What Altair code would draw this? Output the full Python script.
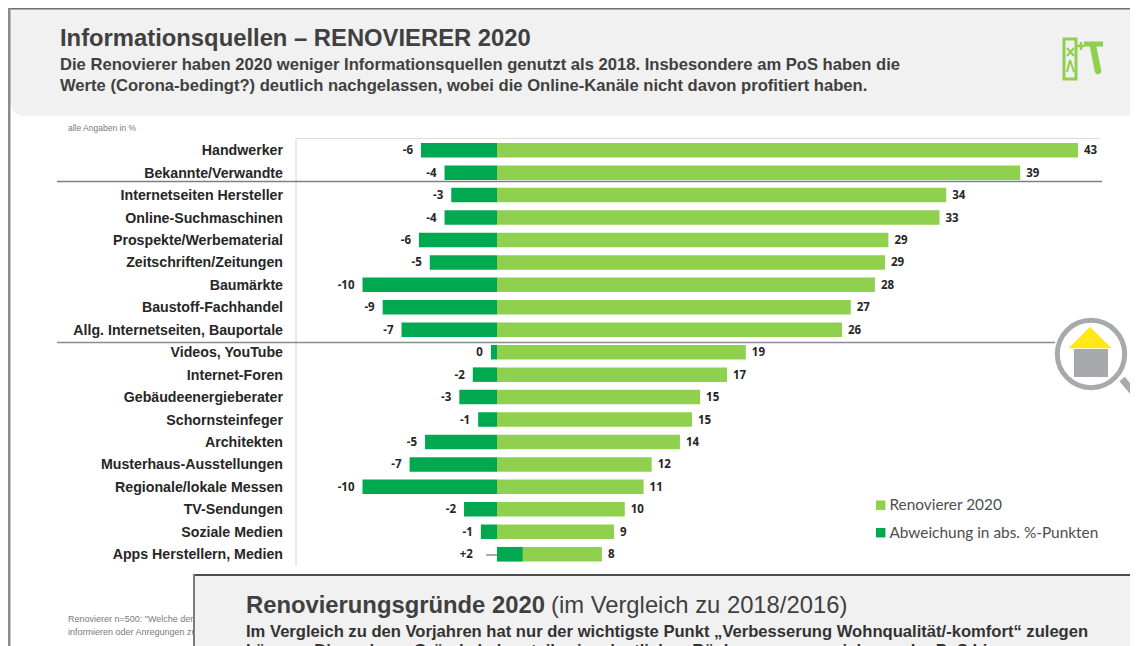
import altair as alt
import pandas as pd

categories = ["Handwerker", "Bekannte/Verwandte", "Internetseiten Hersteller", "Online-Suchmaschinen",
              "Prospekte/Werbematerial", "Zeitschriften/Zeitungen", "Baumärkte", "Baustoff-Fachhandel",
              "Allg. Internetseiten, Bauportale", "Videos, YouTube", "Internet-Foren", "Gebäudeenergieberater",
              "Schornsteinfeger", "Architekten", "Musterhaus-Ausstellungen", "Regionale/lokale Messen",
              "TV-Sendungen", "Soziale Medien", "Apps Herstellern, Medien"]
bar_2020 = [43.2, 38.9, 33.4, 32.9, 29.1, 28.85, 28.1, 26.3, 25.65, 18.5, 17.1, 15.1, 14.5, 13.6, 11.5, 10.9, 9.5, 8.7, 7.8]
bar_dev = [-5.65, -3.9, -3.4, -3.9, -5.8, -5.0, -10.0, -8.5, -7.1, -0.45, -1.8, -2.8, -1.4, -5.35, -6.5, -10.0, -2.45, -1.2, 1.9]
labels_2020 = ["43", "39", "34", "33", "29", "29", "28", "27", "26", "19", "17", "15", "15", "14", "12", "11", "10", "9", "8"]
labels_dev = ["-6", "-4", "-3", "-4", "-6", "-5", "-10", "-9", "-7", "0", "-2", "-3", "-1", "-5", "-7", "-10", "-2", "-1", "+2"]
# where the deviation label sits, on the value axis
anchor_dev = [-5.65, -3.9, -3.4, -3.9, -5.8, -5.0, -10.0, -8.5, -7.1, -0.45, -1.8, -2.8, -1.4, -5.35, -6.5, -10.0, -2.45, -1.2, -1.2]
series = ["Renovierer 2020", "Abweichung in abs. %-Punkten"]

W, H = 1122, 638
HEAD = "Liberation Sans"
LIGHT, DARK = "#8fd14f", "#00a84f"

base_rows = pd.DataFrame({"cat": categories, "v2020": bar_2020, "dev": bar_dev,
                          "l2020": labels_2020, "ldev": labels_dev, "adev": anchor_dev})
long_rows = pd.concat([
    pd.DataFrame({"cat": categories, "value": bar_2020, "series": series[0]}),
    pd.DataFrame({"cat": categories, "value": bar_dev, "series": series[1]}),
])


def px(v):
    return alt.value(v - 8)


xs = alt.Scale(domain=[-489 / 13.45, (W - 489) / 13.45], range=[0, W], nice=False, zero=False)
ys = alt.Scale(domain=categories, range=[131, 557.4], paddingInner=0.354, paddingOuter=0.177)
one = alt.Data(values=[{}])


def box(x0, x1, y0, y1, color, **kw):
    return alt.Chart(one).mark_rect(color=color, **kw).encode(x=px(x0), x2=px(x1), y=px(y0), y2=px(y1))


def seg(x0, x1, y0, y1, color, width, **kw):
    return alt.Chart(one).mark_rule(color=color, strokeWidth=width, **kw).encode(x=px(x0), x2=px(x1), y=px(y0), y2=px(y1))


def txt(x, y, s, size, color="#333333", weight="normal", font=HEAD, align="left"):
    return alt.Chart(one).mark_text(font=font, fontSize=size, color=color, fontWeight=weight,
                                    align=align, baseline="alphabetic").encode(x=px(x), y=px(y), text=alt.value(s))


y_axis = alt.Axis(offset=-287.5, ticks=False, grid=False, labelPadding=13, domainColor="#d4d4d4",
                  domainWidth=1, labelFont=HEAD, labelFontWeight="bold", labelFontSize=14.2, labelOffset=1,
                  labelColor="#262626", labelLimit=280, title=None)
y_enc = alt.Y("cat:N", scale=ys, sort=categories, title=None, axis=y_axis)
x_enc = dict(scale=xs, title=None, axis=alt.Axis(labels=False, ticks=False, domain=False, grid=False))

bars = alt.Chart(long_rows).mark_bar(size=14.5).encode(
    x=alt.X("value:Q", stack=None, **x_enc),
    y=y_enc,
    color=alt.Color("series:N", scale=alt.Scale(domain=series, range=[LIGHT, DARK]),
                    legend=alt.Legend(orient="none", legendX=865, legendY=489.5, title=None, symbolType="square",
                                      symbolSize=90, symbolStrokeWidth=0, rowPadding=10.5, labelFont="Lato",
                                      labelFontSize=15.4, labelColor="#4d4d4d", labelLimit=280, labelOffset=1)),
)

val_font = "Open Sans"
pos_labels = alt.Chart(base_rows).mark_text(align="left", dx=6, dy=1, font=val_font, fontWeight="bold",
                                            fontSize=11.5, color="#262626").encode(
    x=alt.X("v2020:Q", **x_enc), y=y_enc, text="l2020:N")
dev_labels = alt.Chart(base_rows).mark_text(align="right", dx=-8, dy=1, font=val_font, fontWeight="bold",
                                            fontSize=11.5, color="#262626").encode(
    x=alt.X("adev:Q", **x_enc), y=y_enc, text="ldev:N")

layers = [
    box(10, 1138, 9, 116, "#f1f1f1", cornerRadiusBottomLeft=14),
    box(8, 1138, 7, 9.5, "#6e6e6e"),
    box(8, 10.5, 7, 646, "#8a8a8a"),
    txt(60, 46, "Informationsquellen – RENOVIERER 2020", 23.8, "#404040", "bold"),
    txt(60, 70, "Die Renovierer haben 2020 weniger Informationsquellen genutzt als 2018. Insbesondere am PoS haben die", 16.6, "#404040", "bold"),
    txt(60, 91, "Werte (Corona-bedingt?) deutlich nachgelassen, wobei die Online-Kanäle nicht davon profitiert haben.", 16.6, "#404040", "bold"),
    # logo
    alt.Chart(one).mark_rect(fill="#f1f1f1", stroke=LIGHT, strokeWidth=3).encode(x=px(1064), x2=px(1076), y=px(39), y2=px(79)),
    seg(1067, 1074, 48, 56, LIGHT, 2), seg(1067, 1074, 56, 48, LIGHT, 2),
    seg(1067, 1070, 72, 60, LIGHT, 2), seg(1070, 1074, 60, 72, LIGHT, 2),
    seg(1076, 1084, 46, 46, LIGHT, 2.5), seg(1081, 1081, 42, 50, LIGHT, 2.5),
    seg(1084, 1103, 44, 44, LIGHT, 5), seg(1093, 1098, 46, 71, LIGHT, 6.5, strokeCap="round"),
    # chart frame lines
    alt.Chart(one).mark_rule(color="#dcdcdc", strokeWidth=1).encode(x=px(295.5), x2=px(1100), y=px(138.5)),
    bars,
    pos_labels,
    dev_labels,
    seg(486, 497, 555, 555, "#555555", 1),
    seg(57, 1102, 181.5, 181.5, "#7f7f7f", 1.6),
    seg(57, 1055, 342.5, 342.5, "#8c8c8c", 1.6),
    txt(68, 131, "alle Angaben in %", 8.5, "#7a7a7a"),
    txt(68, 622, "Renovierer n=500: \"Welche der folgenden", 9, "#7a7a7a"),
    txt(68, 635, "informieren oder Anregungen zu erhalten\"", 9, "#7a7a7a"),
    # magnifier
    seg(1122, 1140, 379, 400, "#a7a9ac", 7),
    alt.Chart(one).mark_point(shape="circle", size=4540, filled=False, color="#a7a9ac", strokeWidth=5, opacity=1).encode(x=px(1091), y=px(354)),
    box(1074, 1108, 349, 377, "#a7a9ac"),
    alt.Chart(one).mark_point(shape="M-1,0.5L1,0.5L0,-0.5Z", size=1849, filled=True, color="#ffe818", opacity=1).encode(x=px(1090), y=px(337.5)),
    # lower panel
    box(193, 1138, 575, 646, "#f1f1f1"),
    box(193, 1138, 574, 576, "#4d4d4d"),
    box(193, 195, 574, 646, "#7a7a7a"),
    txt(246, 613, "Renovierungsgründe 2020", 23.8, "#404040", "bold"),
    txt(551, 613, "(im Vergleich zu 2018/2016)", 23.8, "#404040"),
    txt(246, 637, "Im Vergleich zu den Vorjahren hat nur der wichtigste Punkt „Verbesserung Wohnqualität/-komfort“ zulegen", 16.6, "#333333", "bold"),
    txt(246, 656, "können. Die anderen Gründe haben teilweise deutlichen Rückgang zu verzeichnen, der PoS hingegen", 16.6, "#333333", "bold"),
]

chart = alt.layer(*layers).resolve_scale(x="shared", y="shared").properties(
    width=W, height=H, padding=0, autosize=alt.AutoSizeParams(type="none"), background="white",
).configure_view(stroke=None)

chart.save("out.html", embed_options={"renderer": "svg", "actions": False})
